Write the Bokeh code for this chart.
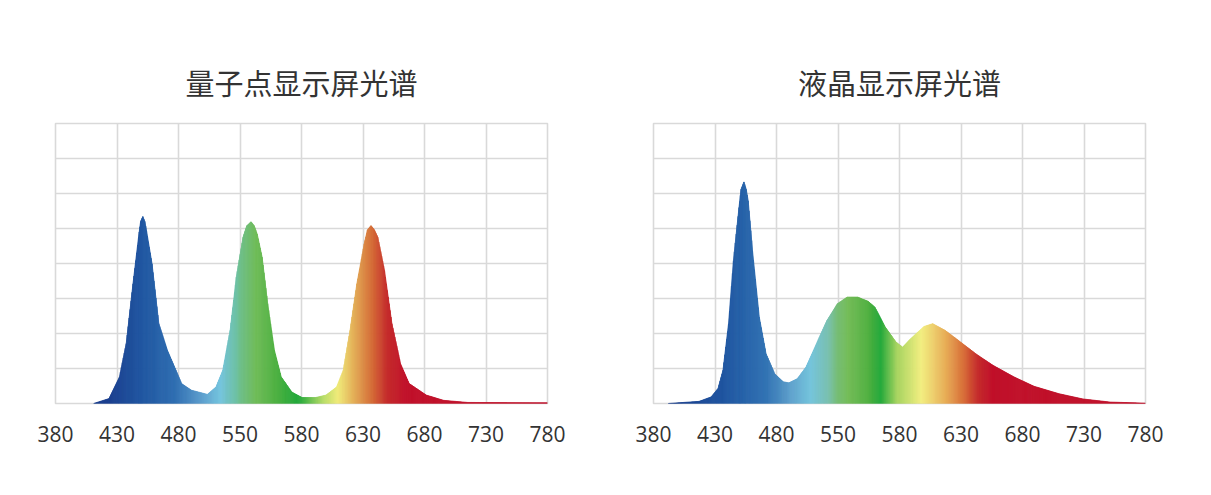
import numpy as np
from bokeh.plotting import figure
from bokeh.layouts import row
from bokeh.models import Range1d, FixedTicker
from bokeh.embed import file_html
from bokeh.resources import INLINE

# ---------------- data ----------------
tick_nm = [380, 430, 480, 550, 580, 630, 680, 730, 780]
tick_labels = ["380", "430", "480", "550", "580", "630", "680", "730", "780"]

titles = ["量子点显示屏光谱", "液晶显示屏光谱"]

qd_nm = [411, 423.5, 432, 437.5, 443, 447.5, 449.2, 451, 452.6, 454, 458.5, 464,
         471, 483.5, 494.7, 512.9, 522.7, 530.4, 538.8, 545.8, 551.5, 553.3, 555.4,
         556.9, 558.4, 560.8, 563.5, 566.8, 570.1, 575.2, 580.5, 591.5, 600, 608.5,
         614, 619.5, 625, 631, 633.6, 636.5, 639.3, 642, 647.5, 653.5, 660.5, 667.5,
         681.5, 695.5, 715, 780]
qd_val = [0, 0.14, 0.76, 1.71, 3.42, 4.75, 5.20, 5.34, 5.20, 4.94, 3.99, 2.28,
          1.52, 0.57, 0.38, 0.26, 0.47, 0.95, 2.09, 3.61, 4.75, 5.08, 5.19,
          5.08, 4.84, 4.18, 2.85, 1.52, 0.76, 0.33, 0.17, 0.17, 0.24, 0.47,
          0.95, 2.09, 3.42, 4.56, 4.96, 5.08, 4.96, 4.75, 3.80, 2.28, 1.14, 0.57,
          0.24, 0.09, 0.03, 0.02]

lcd_nm = [392, 417, 427, 432.5, 436.5, 441, 445, 449.5, 451.2, 453.5, 455.4, 457,
          460.5, 466, 471.5, 478.5, 487.7, 494, 503.8, 513.6, 525.5, 537.4,
          549.3, 554.5, 559.6, 564.7, 568, 573.1, 578.2, 582.5, 589, 600,
          607, 617, 628, 642, 656, 673, 689.5, 709.5, 729, 751.5, 780]
lcd_val = [0, 0.06, 0.19, 0.43, 0.95, 2.28, 4.08, 5.60, 6.12, 6.33, 6.12, 5.79,
           4.37, 2.47, 1.42, 0.85, 0.62, 0.59, 0.71, 1.04, 1.71, 2.37,
           2.85, 3.04, 3.04, 2.92, 2.75, 2.18, 1.76, 1.61, 1.85, 2.20,
           2.28, 2.09, 1.80, 1.42, 1.09, 0.76, 0.49, 0.28, 0.13, 0.04, 0.01]

# colour stops of the spectral fill (wavelength, colour)
qd_stop_nm = [400, 425, 449, 476, 505, 528, 547, 558, 568, 578, 598, 610, 626, 638, 650, 665, 780]
qd_stop_col = ["#173a8a", "#1a3f8f", "#1f55a0", "#2d6cb0", "#5a9bcc", "#74c4de", "#6cc0a0",
               "#70bc58", "#4cb040", "#22a83a", "#b8dc68", "#f0ea78", "#e0a050", "#d46a36",
               "#c42a2a", "#c0102a", "#c0102a"]
lcd_stop_nm = [390, 437, 470, 496, 519, 539, 555, 565, 571, 579, 598, 617, 632, 644, 655, 780]
lcd_stop_col = ["#173a8a", "#1f55a0", "#2f70b2", "#5ea0cc", "#74c4dc", "#78c0b0", "#74bc58",
                "#50b040", "#22a83a", "#a8d460", "#f2ee80", "#e8b058", "#d87038", "#c42a2a",
                "#c0102a", "#c0102a"]

# ---------------- helpers ----------------
tick_pos = list(range(len(tick_nm)))


def to_pos(nm):
    return np.interp(nm, tick_nm, tick_pos)


def to_nm(pos):
    return np.interp(pos, tick_pos, tick_nm)


def hex_rgb(h):
    h = h.lstrip("#")
    return [int(h[i:i + 2], 16) for i in (0, 2, 4)]


def colour_at(nm, stop_nm, stop_col):
    rgb = np.array([hex_rgb(c) for c in stop_col], dtype=float)
    r = np.interp(nm, stop_nm, rgb[:, 0])
    g = np.interp(nm, stop_nm, rgb[:, 1])
    b = np.interp(nm, stop_nm, rgb[:, 2])
    return "#%02x%02x%02x" % (int(round(r)), int(round(g)), int(round(b)))


FRAME_W, FRAME_H = 492, 280
PX_PER_UNIT = FRAME_W / 8.0
TOP, BOTTOM = 123, 64


def make_plot(title, nm, val, stop_nm, stop_col, left, right):
    p = figure(width=left + FRAME_W + right, height=TOP + FRAME_H + BOTTOM,
               x_range=Range1d(0, 8), y_range=Range1d(0, 8),
               output_backend="svg", toolbar_location=None, tools="",
               min_border_left=left, min_border_right=right,
               min_border_top=TOP, min_border_bottom=BOTTOM)
    p.background_fill_color = "white"
    p.border_fill_color = "white"
    p.outline_line_color = "#d9d9d9"
    p.outline_line_width = 1.6

    p.title.text = title
    p.title.align = "center"
    p.title.text_font = "Noto Sans CJK SC"
    p.title.text_font_size = "29px"
    p.title.text_font_style = "normal"
    p.title.text_color = "#333333"
    p.title.standoff = 42

    # spectral fill, drawn as thin slices of the piecewise-linear outline
    xs, ys, cols = [], [], []
    pos = to_pos(nm)
    for i in range(len(nm) - 1):
        a, b = pos[i], pos[i + 1]
        ya, yb = val[i], val[i + 1]
        n = max(1, int(np.ceil((b - a) * PX_PER_UNIT)))
        for k in range(n):
            t0, t1 = k / n, (k + 1) / n
            x0, x1 = a + (b - a) * t0, a + (b - a) * t1
            y0, y1 = ya + (yb - ya) * t0, ya + (yb - ya) * t1
            xs.append([x0, x1, x1, x0])
            ys.append([0, 0, y1, y0])
            cols.append(colour_at(to_nm((x0 + x1) / 2), stop_nm, stop_col))
    p.patches(xs, ys, fill_color=cols, line_color=cols, line_width=0.8)

    # grid
    p.xgrid.ticker = FixedTicker(ticks=list(range(1, 8)))
    p.ygrid.ticker = FixedTicker(ticks=list(range(1, 8)))
    for g in (p.xgrid[0], p.ygrid[0]):
        g.grid_line_color = "#d9d9d9"
        g.grid_line_width = 1.6

    # axes
    p.yaxis.visible = False
    ax = p.xaxis[0]
    ax.ticker = FixedTicker(ticks=tick_pos)
    ax.major_label_overrides = {i: lab for i, lab in zip(tick_pos, tick_labels)}
    ax.axis_line_color = None
    ax.major_tick_line_color = None
    ax.minor_tick_line_color = None
    ax.major_label_text_font = "Open Sans"
    ax.major_label_text_font_size = "21px"
    ax.major_label_text_color = "#333333"
    ax.major_label_standoff = 16
    return p


p1 = make_plot(titles[0], qd_nm, qd_val, qd_stop_nm, qd_stop_col, 55, 53)
p2 = make_plot(titles[1], lcd_nm, lcd_val, lcd_stop_nm, lcd_stop_col, 53, 48)

layout = row(p1, p2)
open("out.html", "w").write(file_html(layout, INLINE))
